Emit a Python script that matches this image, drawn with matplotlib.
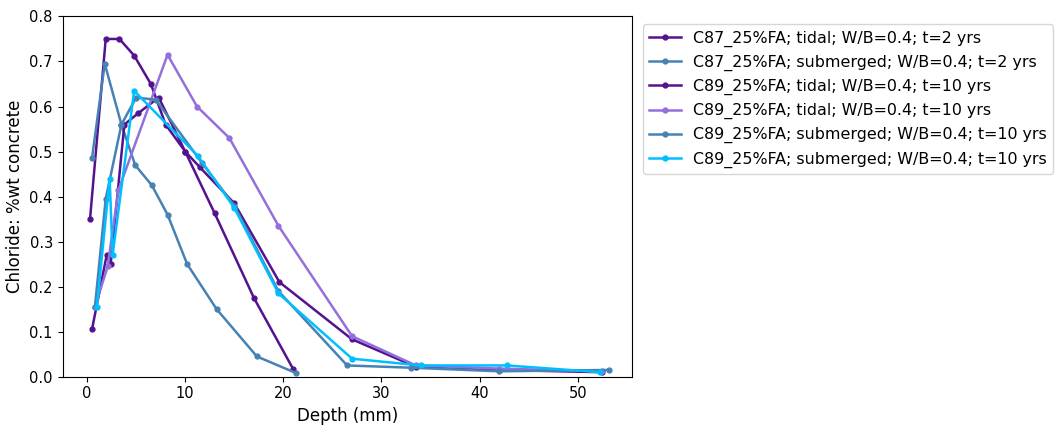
import matplotlib
matplotlib.use("Agg")
import matplotlib.pyplot as plt

labels = ["C87_25%FA; tidal; W/B=0.4; t=2 yrs",
          "C87_25%FA; submerged; W/B=0.4; t=2 yrs",
          "C89_25%FA; tidal; W/B=0.4; t=10 yrs",
          "C89_25%FA; tidal; W/B=0.4; t=10 yrs",
          "C89_25%FA; submerged; W/B=0.4; t=10 yrs",
          "C89_25%FA; submerged; W/B=0.4; t=10 yrs"]
colors = ["#55128f", "#4682b4", "#55128f", "#9370db", "#4682b4", "#00bfff"]

x1 = [0.3, 1.9, 3.3, 4.8, 6.5, 8.0, 10.0, 13.0, 17.0, 21.0]
y1 = [0.35, 0.75, 0.75, 0.713, 0.65, 0.56, 0.50, 0.363, 0.175, 0.017]
x2 = [0.5, 1.8, 3.5, 4.9, 6.6, 8.2, 10.2, 13.2, 17.3, 21.3]
y2 = [0.485, 0.695, 0.56, 0.47, 0.425, 0.36, 0.25, 0.15, 0.045, 0.008]
x3 = [0.5, 2.0, 2.4, 3.8, 5.2, 7.3, 10.0, 11.5, 15.0, 19.6, 27.0, 33.5, 42.0, 52.5]
y3 = [0.105, 0.27, 0.25, 0.56, 0.585, 0.62, 0.50, 0.465, 0.385, 0.21, 0.083, 0.022, 0.015, 0.01]
x4 = [0.8, 2.1, 3.2, 8.2, 11.2, 14.5, 19.5, 27.0, 33.5, 42.0, 52.5]
y4 = [0.155, 0.245, 0.415, 0.715, 0.60, 0.53, 0.335, 0.09, 0.025, 0.018, 0.012]
x5 = [0.8, 1.9, 3.5, 5.0, 7.0, 11.7, 15.0, 19.5, 26.5, 33.0, 42.0, 53.2]
y5 = [0.155, 0.395, 0.56, 0.62, 0.615, 0.475, 0.38, 0.19, 0.025, 0.02, 0.012, 0.015]
x6 = [1.0, 2.3, 2.6, 4.8, 11.3, 15.0, 19.5, 27.0, 34.0, 42.8, 52.3]
y6 = [0.155, 0.44, 0.27, 0.635, 0.49, 0.375, 0.185, 0.04, 0.025, 0.025, 0.01]

fig = plt.figure(figsize=(10.6, 4.33), dpi=100)
ax = fig.add_axes([0.059, 0.13, 0.537, 0.832])
for xs, ys, c, l in zip([x1, x2, x3, x4, x5, x6], [y1, y2, y3, y4, y5, y6], colors, labels):
    ax.plot(xs, ys, marker='o', markersize=3.5, color=c, label=l, linewidth=1.8)
ax.set_xlim(-2.5, 55.5)
ax.set_ylim(0, 0.8)
ax.tick_params(labelsize=10.5)
ax.set_xlabel("Depth (mm)", fontsize=12)
ax.set_ylabel("Chloride: %wt concrete", fontsize=12)
ax.legend(loc='upper left', bbox_to_anchor=(1.005, 1.0), fontsize=11.4)
fig.savefig("out.png", dpi=100)
